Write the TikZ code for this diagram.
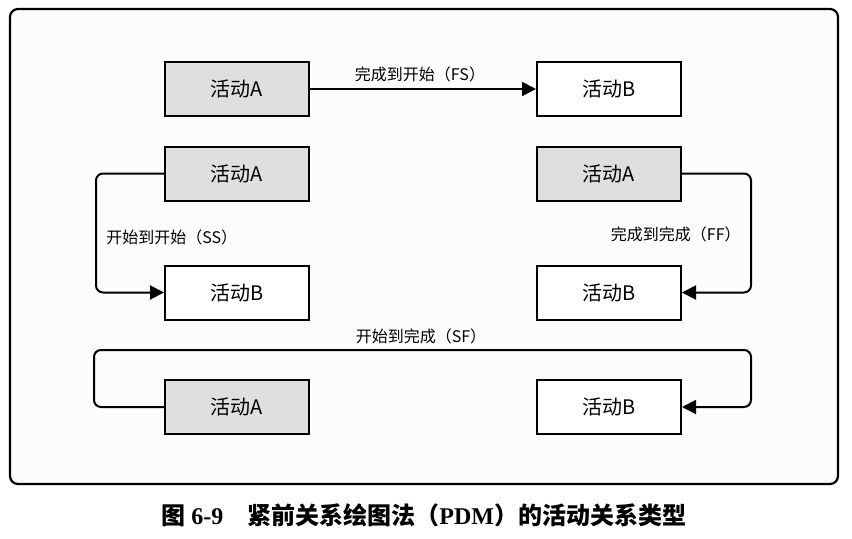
\documentclass[tikz,border=0pt]{standalone}
\usepackage{fontspec}
\setmainfont{Noto Sans CJK SC}
\newfontfamily\capserif{Liberation Serif}
\usetikzlibrary{arrows.meta}

\tikzset{
  act/.style={draw=black, line width=1pt, minimum width=72pt, minimum height=27pt,
    inner sep=0pt, font=\fontsize{10}{12}\selectfont},
  actA/.style={act, fill=gray!25},
  actB/.style={act, fill=white},
  link/.style={line width=1pt, rounded corners=3.5pt, -{Triangle[length=7pt,width=7pt]}},
  tag/.style={font=\fontsize{8}{10}\selectfont, inner sep=0pt}
}

\begin{document}
\begin{tikzpicture}[x=0.5pt, y=-0.5pt]
  \def\xl{237};
  \def\xr{609};
  \useasboundingbox (0,0) rectangle (852,538);
  \draw[line width=1.1pt, rounded corners=4pt, fill=black!1] (10,9) rectangle (838,484);

  % FS
  \node[actA] (fsA) at (\xl,89) {活动A};
  \node[actB] (fsB) at (\xr,89) {活动B};
  \draw[link] (fsA) -- (fsB);
  \node[tag] (fsT) at (420,74) {完成到开始（FS）};

  % SS
  \node[actA] (ssA) at (\xl,173.5) {活动A};
  \node[actB] (ssB) at (\xl,292.5) {活动B};
  \coordinate (ssM) at (96,233);
  \draw[link] (ssA.west) -| (ssM) |- (ssB.west);
  \node[tag, anchor=west] (ssT) at (106,237) {开始到开始（SS）};

  % FF
  \node[actA] (ffA) at (\xr,173.5) {活动A};
  \node[actB] (ffB) at (\xr,292.5) {活动B};
  \coordinate (ffM) at (751,233);
  \draw[link] (ffA.east) -| (ffM) |- (ffB.east);
  \node[tag, anchor=east] (ffT) at (741,234) {完成到完成（FF）};

  % SF
  \node[actA] (sfA) at (\xl,407) {活动A};
  \node[actB] (sfB) at (\xr,407) {活动B};
  \coordinate (sfL) at (94,350);
  \coordinate (sfR) at (751,350);
  \draw[link] (sfA.west) -| (sfL) -- (sfR) |- (sfB.east);
  \node[tag] (sfT) at (421,336) {开始到完成（SF）};

  \node[font=\fontsize{12}{14}\selectfont\bfseries] (cap) at (424,515)
    {图 {\capserif 6-9}\quad 紧前关系绘图法（{\capserif PDM}）的活动关系类型};
\end{tikzpicture}
\end{document}
